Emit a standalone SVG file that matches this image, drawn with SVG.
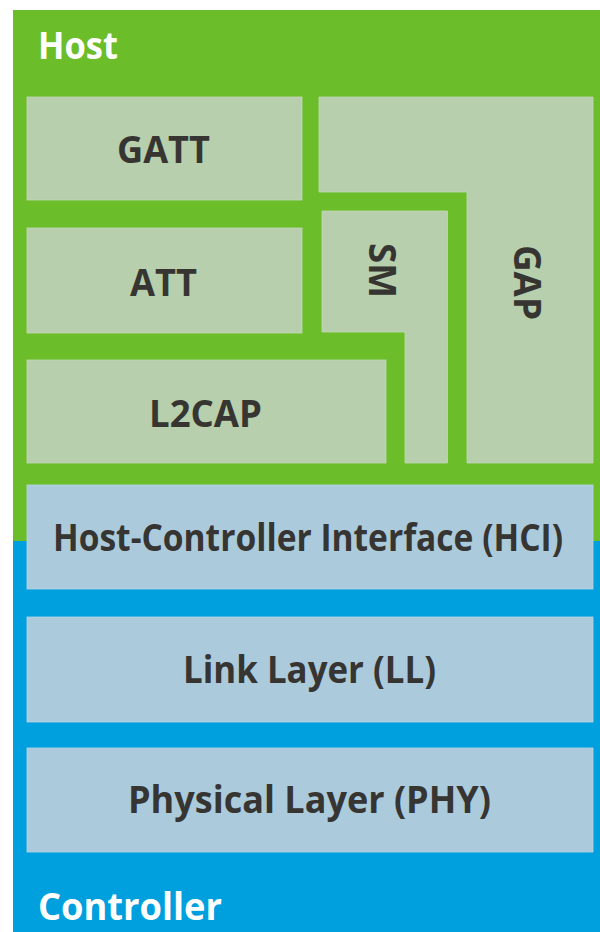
<svg xmlns="http://www.w3.org/2000/svg" width="600" height="932" viewBox="0 0 600 932">
  <style>
    .host-bg { fill: #6bbd2a; }
    .ctrl-bg { fill: #00a0df; }
    .hbox { fill: #b7cfac; stroke: #c3d8b8; stroke-width: 0.8; }
    .cbox { fill: #abcadc; stroke: #b9d4e4; stroke-width: 0.8; }
    text { font-family: "Open Sans", "Lato", "Liberation Sans", sans-serif; font-weight: 700; font-size: 38px; }
    .label { fill: #363532; }
    .zone { fill: #ffffff; }
  </style>

  <!-- Host and Controller zones -->
  <g id="zones">
    <rect class="host-bg" x="13" y="10" width="587" height="531"/>
    <rect class="ctrl-bg" x="13" y="541" width="587" height="391"/>
    <text class="zone" x="38" y="59" textLength="80" lengthAdjust="spacingAndGlyphs">Host</text>
    <text class="zone" x="38" y="920" textLength="184" lengthAdjust="spacingAndGlyphs">Controller</text>
  </g>

  <!-- Host layers -->
  <g id="gatt">
    <rect class="hbox" x="27" y="97" width="275" height="103"/>
    <text class="label" x="117" y="163" textLength="93" lengthAdjust="spacingAndGlyphs">GATT</text>
  </g>
  <g id="att">
    <rect class="hbox" x="27" y="228" width="275" height="105"/>
    <text class="label" x="130" y="296" textLength="67" lengthAdjust="spacingAndGlyphs">ATT</text>
  </g>
  <g id="l2cap">
    <rect class="hbox" x="27" y="360" width="359" height="103"/>
    <text class="label" x="149" y="427" textLength="113" lengthAdjust="spacingAndGlyphs">L2CAP</text>
  </g>
  <g id="sm">
    <path class="hbox" d="M322 211 H447.5 V463 H405 V332 H322 Z"/>
    <text class="label" transform="translate(369 243) rotate(90)" x="0" y="0" textLength="55" lengthAdjust="spacingAndGlyphs">SM</text>
  </g>
  <g id="gap">
    <path class="hbox" d="M319 97 H593 V463 H467 V192 H319 Z"/>
    <text class="label" transform="translate(514 245) rotate(90)" x="0" y="0" textLength="75" lengthAdjust="spacingAndGlyphs">GAP</text>
  </g>

  <!-- Controller layers -->
  <g id="hci">
    <rect class="cbox" x="27" y="485" width="566" height="104"/>
    <text class="label" x="53" y="551" textLength="510" lengthAdjust="spacingAndGlyphs">Host-Controller Interface (HCI)</text>
  </g>
  <g id="ll">
    <rect class="cbox" x="27" y="617" width="566" height="105"/>
    <text class="label" x="183" y="683" textLength="253" lengthAdjust="spacingAndGlyphs">Link Layer (LL)</text>
  </g>
  <g id="phy">
    <rect class="cbox" x="27" y="748" width="566" height="104"/>
    <text class="label" x="128" y="813" textLength="363" lengthAdjust="spacingAndGlyphs">Physical Layer (PHY)</text>
  </g>

  <!-- no connectors in this stack diagram -->
  <g id="connectors"/>
</svg>
